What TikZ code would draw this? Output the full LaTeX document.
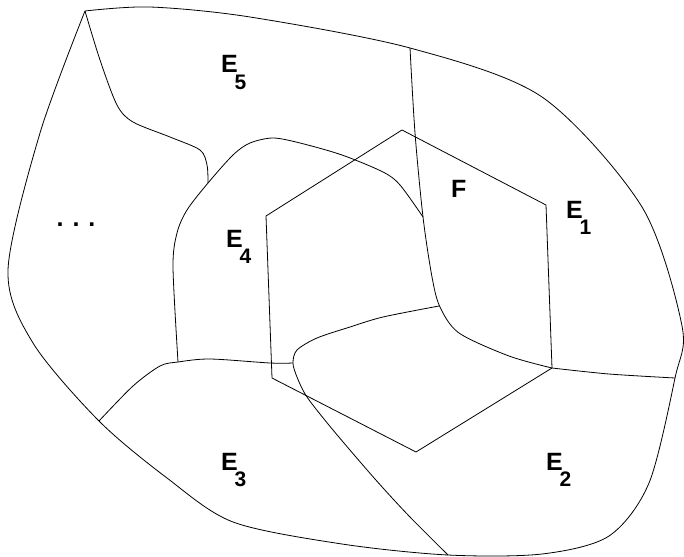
\documentclass[tikz,border=0pt]{standalone}
\usepackage{fontspec}
\setmainfont{Liberation Sans}
\newcommand{\elab}[1]{E\kern-0.13em\raisebox{-0.66em}{\fontsize{21}{21}\selectfont #1}}

\begin{document}
\begin{tikzpicture}[x=1pt, y=-1pt,
    border/.style={draw=black, line width=0.8pt, line join=round},
    face/.style={font=\fontsize{25}{30}\selectfont\bfseries, inner sep=0pt, anchor=base west}]
  \useasboundingbox (0,0) rectangle (684,556);

  \coordinate (top)   at (85,11);
  \coordinate (north) at (410,48);
  \coordinate (east)  at (675,378);
  \coordinate (south) at (448,555);
  \coordinate (west)  at (99,421);
  \coordinate (e4e5)  at (208,183);
  \coordinate (e4f)   at (423,217);
  \coordinate (e3e4)  at (178,362);
  \coordinate (loopl) at (293,363);
  \coordinate (loopt) at (439,306);

  \coordinate (h1) at (402,130);
  \coordinate (h2) at (546,205);
  \coordinate (h3) at (552,368);
  \coordinate (h4) at (416,452);
  \coordinate (h5) at (272,378);
  \coordinate (h6) at (266,216);

  \draw[border] plot[smooth] coordinates {(top) (150,7) (250,17) (north) (542,97) (642,207)
    (682,326) (east) (649,483) (609,536) (542,554) (south) (342,544) (233,522) (167,478)
    (west) (33,343) (8,270) (40,133) (top)};

  \draw[border] plot[smooth] coordinates {(top) (100,60) (117,105) (133,122) (170,137)
    (200,150) (207,165) (e4e5)};
  \draw[border] plot[smooth] coordinates {(e4f) (400,185) (383,172) (342,155) (300,143)
    (273,138) (250,143) (233,155) (e4e5) (187,210) (177,233) (173,267) (e3e4)};
  \draw[border] plot[smooth] coordinates {(west) (133,386) (160,366) (e3e4) (210,359)
    (270,363) (loopl)};
  \draw[border] plot[smooth] coordinates {(loopt) (383,317) (350,327) (317,338) (297,350)
    (loopl) (297,377) (307,397) (333,430) (375,479) (409,516) (south)};
  \draw[border] plot[smooth] coordinates {(north) (415,133) (e4f) (432,277) (440,307)
    (459,333) (509,356) (h3)};
  \draw[border] plot[smooth] coordinates {(h3) (609,374) (east)};

  \draw[border] (h1) -- (h2) -- (h3) -- (h4) -- (h5) -- (h6) -- cycle;

  \node[face] (e5) at (221,73) {\elab{5}};
  \node[face] (e4) at (226,247) {\elab{4}};
  \node[face] (f)  at (451,197) {F};
  \node[face] (e1) at (566,218) {\elab{1}};
  \node[face] (e3) at (221,470) {\elab{3}};
  \node[face] (e2) at (546,470) {\elab{2}};
  \node[face, anchor=base] (dots) at (76,226) {.\hspace{0.36em}.\hspace{0.36em}.};
\end{tikzpicture}
\end{document}
